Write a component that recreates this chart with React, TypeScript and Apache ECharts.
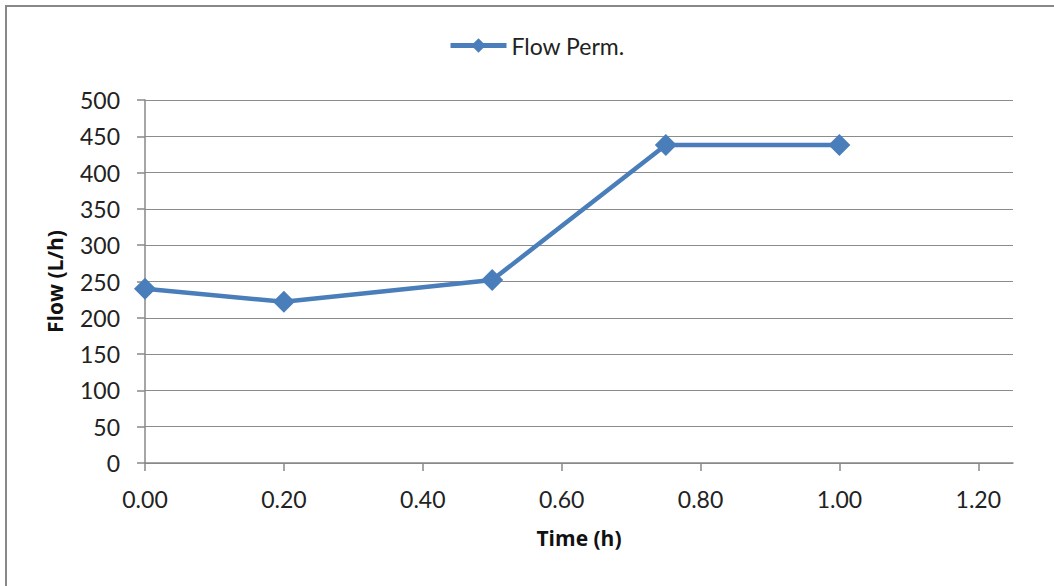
import React, { useEffect, useRef } from "react";
import * as echarts from "echarts";

const seriesName = "Flow Perm.";
const timeH = [0, 0.2, 0.5, 0.75, 1.0];
const flowLh = [240, 222, 252, 438, 438];
const xTicks = [0, 0.2, 0.4, 0.6, 0.8, 1.0, 1.2];
const yTicks = [0, 50, 100, 150, 200, 250, 300, 350, 400, 450, 500];
const xTitle = "Time (h)";
const yTitle = "Flow (L/h)";

const FONT = "Lato, 'Open Sans', sans-serif";
const TITLE_FONT = "'Open Sans', Lato, sans-serif";
const BLUE = "#4a7ebb";

export default function App() {
  const ref = useRef<HTMLDivElement>(null);
  useEffect(() => {
    if (!ref.current) return;
    const chart = echarts.init(ref.current, null, { renderer: "svg" });
    chart.setOption({
      animation: false,
      backgroundColor: "#ffffff",
      graphic: [
        {
          type: "rect",
          shape: { x: 6, y: 6, width: 1100, height: 700 },
          style: { fill: "none", stroke: "#888888", lineWidth: 2 },
          silent: true,
        },
      ],
      legend: {
        data: [seriesName],
        left: 443,
        top: 29,
        itemWidth: 56,
        itemHeight: 18,
        itemGap: 6,
        lineStyle: { width: 5 },
        textStyle: { fontFamily: FONT, fontSize: 23, color: "#222" },
      },
      grid: { left: 145, right: 41, top: 100, bottom: 123, containLabel: false },
      xAxis: {
        type: "value",
        min: 0,
        max: 1.25,
        name: xTitle,
        nameLocation: "middle",
        nameGap: 64,
        nameTextStyle: { fontFamily: TITLE_FONT, fontSize: 21, fontWeight: "bold", color: "#111" },
        axisLine: { show: true, lineStyle: { color: "#888", width: 1.5 } },
        axisTick: { show: true, length: 8, customValues: xTicks, lineStyle: { color: "#888", width: 1.5 } },
        axisLabel: {
          customValues: xTicks,
          formatter: (v: number) => v.toFixed(2),
          margin: 24,
          fontFamily: FONT,
          fontSize: 23,
          color: "#222",
        },
        splitLine: { show: false },
      },
      yAxis: {
        type: "value",
        min: 0,
        max: 500,
        interval: 50,
        name: yTitle,
        nameLocation: "middle",
        nameGap: 80,
        nameTextStyle: { fontFamily: TITLE_FONT, fontSize: 21, fontWeight: "bold", color: "#111" },
        axisLine: { show: true, lineStyle: { color: "#888", width: 1.5 } },
        axisTick: { show: true, length: 8, customValues: yTicks, lineStyle: { color: "#888", width: 1.5 } },
        axisLabel: {
          customValues: yTicks,
          margin: 25,
          fontFamily: FONT,
          fontSize: 23,
          color: "#222",
        },
        splitLine: { show: true, lineStyle: { color: "#8c8c8c", width: 1.2 } },
      },
      series: [
        {
          name: seriesName,
          type: "line",
          data: timeH.map((t, i) => [t, flowLh[i]]),
          symbol: "diamond",
          symbolSize: 22,
          lineStyle: { color: BLUE, width: 4.5 },
          itemStyle: { color: BLUE },
        },
      ],
    });
    return () => chart.dispose();
  }, []);
  return (
    <div
      ref={ref}
      style={{ position: "fixed", left: 0, top: 0, width: 1054, height: 586, background: "#fff" }}
    />
  );
}
